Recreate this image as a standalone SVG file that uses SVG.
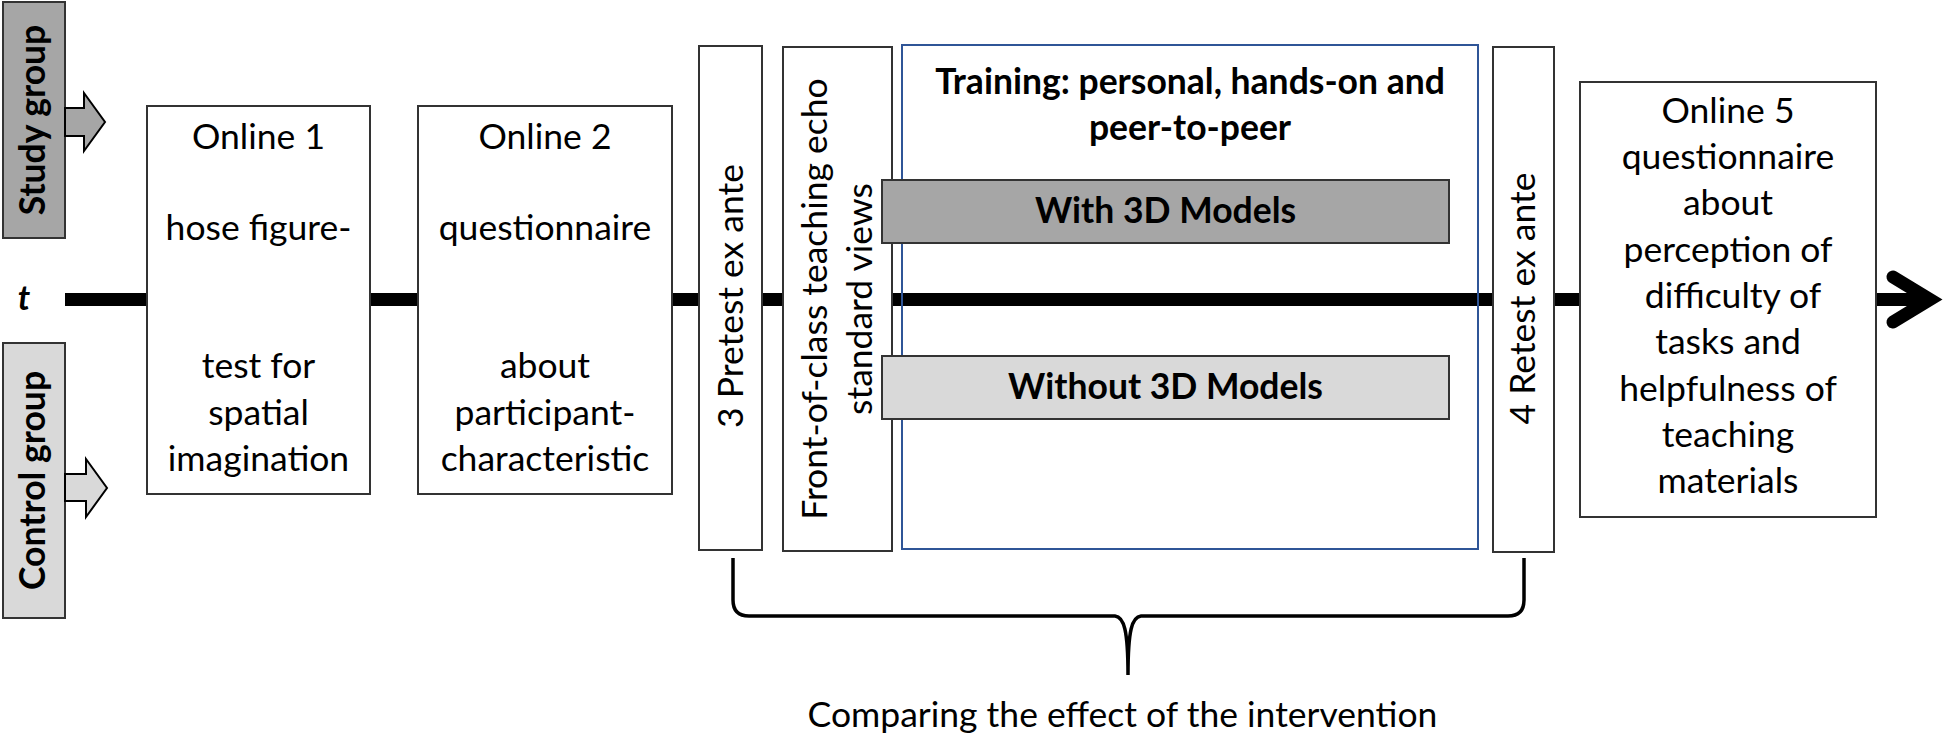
<svg xmlns="http://www.w3.org/2000/svg" width="1944" height="741" viewBox="0 0 1944 741">
<style>
  .box{fill:#ffffff;stroke:#333333;stroke-width:2}
  .t{font-family:Lato,"Open Sans",sans-serif;font-size:35.5px;fill:#000;text-anchor:middle}
  .b{font-family:Lato,"Open Sans",sans-serif;font-size:35.5px;font-weight:bold;fill:#000;text-anchor:middle}
  .arr{stroke:#000;stroke-width:2;stroke-linejoin:miter}
</style>
<rect width="1944" height="741" fill="#ffffff"/>
<g id="connectors">
  <line x1="65" y1="299.5" x2="1930" y2="299.5" stroke="#000" stroke-width="13"/>
  <polyline points="1893,277 1930,299.5 1893,322" fill="none" stroke="#000" stroke-width="13" stroke-linecap="round" stroke-linejoin="miter" stroke-miterlimit="10"/>
  <path d="M733,558 L733,600 Q733,616 749,616 L1115,616 C1124,617 1128,630 1128,675 C1128,630 1132,617 1141,616 L1508,616 Q1524,616 1524,600 L1524,558" fill="none" stroke="#000" stroke-width="3.5"/>
</g>
<g id="study-group">
  <rect x="3" y="2" width="62" height="236" fill="#a6a6a6" stroke="#333" stroke-width="2"/>
  <text class="b" transform="translate(45,120) rotate(-90)">Study group</text>
  <polygon class="arr" points="65,108 84,108 84,93 105,122 84,151 84,136 65,136" fill="#a6a6a6"/>
</g>
<g id="time-label">
  <text x="24" y="310" style="font-family:Lato,'Open Sans',sans-serif;font-size:34px;font-weight:bold;font-style:italic" text-anchor="middle">t</text>
</g>
<g id="control-group">
  <rect x="3" y="343" width="62" height="275" fill="#d9d9d9" stroke="#333" stroke-width="2"/>
  <text class="b" transform="translate(45,480.5) rotate(-90)">Control group</text>
  <polygon class="arr" points="65,474 86,474 86,459 107,488 86,517 86,501 65,501" fill="#d9d9d9"/>
</g>
<g id="online1">
  <rect class="box" x="147" y="106" width="223" height="388"/>
  <text class="t" x="258.5" y="148.5">Online 1</text>
  <text class="t" x="258.5" y="240">hose figure-</text>
  <text class="t" x="258.5" y="378">test for</text>
  <text class="t" x="258.5" y="425">spatial</text>
  <text class="t" x="258.5" y="471">imagination</text>
</g>
<g id="online2">
  <rect class="box" x="418" y="106" width="254" height="388"/>
  <text class="t" x="545" y="148.5">Online 2</text>
  <text class="t" x="545" y="240">questionnaire</text>
  <text class="t" x="545" y="378">about</text>
  <text class="t" x="545" y="425">participant-</text>
  <text class="t" x="545" y="471">characteristic</text>
</g>
<g id="pretest">
  <rect class="box" x="699" y="46" width="63" height="504"/>
  <text class="t" transform="translate(743,296) rotate(-90)">3 Pretest ex ante</text>
</g>
<g id="front-of-class">
  <rect class="box" x="783" y="47" width="109" height="504"/>
  <text class="t" transform="translate(827,299) rotate(-90)">Front-of-class teaching echo</text>
  <text class="t" transform="translate(872,299) rotate(-90)">standard views</text>
</g>
<g id="training">
  <rect x="902" y="45" width="576" height="504" fill="none" stroke="#2f5597" stroke-width="2"/>
  <text class="b" x="1190" y="94">Training: personal, hands-on and</text>
  <text class="b" x="1190" y="140">peer-to-peer</text>
</g>
<g id="with-3d">
  <rect x="882" y="180" width="567" height="63" fill="#a6a6a6" stroke="#333" stroke-width="2"/>
  <text class="b" x="1165.5" y="223">With 3D Models</text>
</g>
<g id="without-3d">
  <rect x="882" y="356" width="567" height="63" fill="#d9d9d9" stroke="#333" stroke-width="2"/>
  <text class="b" x="1165.5" y="399">Without 3D Models</text>
</g>
<g id="retest">
  <rect class="box" x="1493" y="47" width="61" height="505"/>
  <text class="t" transform="translate(1535,298.5) rotate(-90)">4 Retest ex ante</text>
</g>
<g id="online5">
  <rect class="box" x="1580" y="82" width="296" height="435"/>
  <text class="t" x="1728" y="123">Online 5</text>
  <text class="t" x="1728" y="169">questionnaire</text>
  <text class="t" x="1728" y="215">about</text>
  <text class="t" x="1728" y="262">perception of</text>
  <text class="t" x="1733" y="308">difficulty of</text>
  <text class="t" x="1728" y="354">tasks and</text>
  <text class="t" x="1728" y="401">helpfulness of</text>
  <text class="t" x="1728" y="447">teaching</text>
  <text class="t" x="1728" y="493">materials</text>
</g>
<g id="caption">
  <text class="t" x="1122.5" y="727">Comparing the effect of the intervention</text>
</g>
</svg>
